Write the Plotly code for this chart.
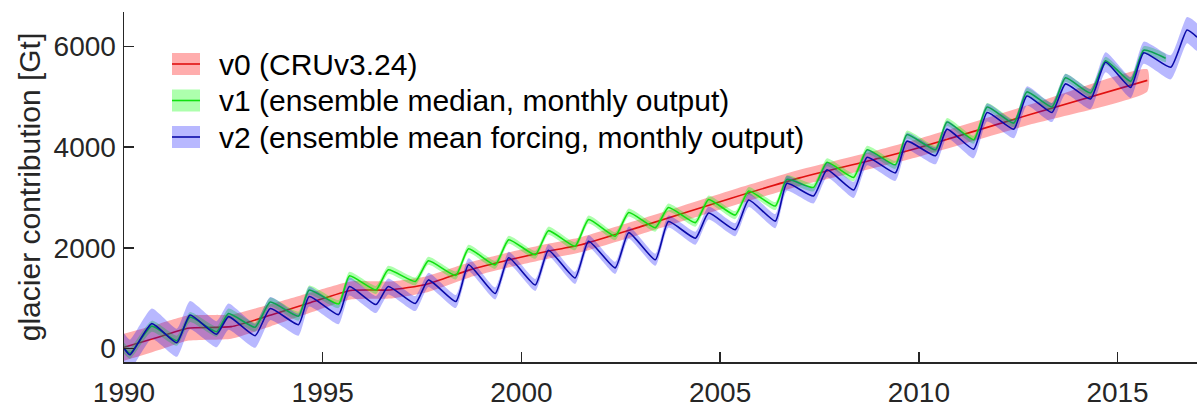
import plotly.graph_objects as go

# ---------------- data ----------------
# v0 (CRUv3.24): red curve and its uncertainty half-width [Gt]
v0_year = [1990.0, 1990.9, 1991.6, 1992.7, 1993.7, 1994.7, 1995.7, 1996.7, 1997.6, 1998.7,
           1999.7, 2000.6, 2001.5, 2003.0, 2005.3, 2007.0, 2009.0, 2010.0, 2012.8, 2015.75]
v0_val = [20, 230, 400, 430, 660, 910, 1150, 1160, 1270, 1560,
          1760, 1920, 2060, 2420, 2990, 3390, 3780, 3990, 4650, 5330]
v0_unc = [270, 260, 250, 240, 220, 200, 180, 170, 160, 150,
          150, 150, 150, 150, 160, 160, 170, 180, 200, 220]

# v2 (ensemble mean forcing, monthly output): troughs / peaks of the seasonal cycle
v2_year = [1990.00, 1990.15, 1990.70, 1991.33, 1991.66, 1992.33, 1992.63, 1993.30, 1993.68,
           1994.39, 1994.66, 1995.40, 1995.67, 1996.34, 1996.65, 1997.33, 1997.66, 1998.35,
           1998.67, 1999.34, 1999.68, 2000.35, 2000.68, 2001.35, 2001.69, 2002.36, 2002.70,
           2003.37, 2003.70, 2004.38, 2004.71, 2005.38, 2005.72, 2006.39, 2006.68, 2007.35,
           2007.69, 2008.36, 2008.70, 2009.41, 2009.70, 2010.42, 2010.71, 2011.38, 2011.72,
           2012.39, 2012.72, 2013.35, 2013.69, 2014.32, 2014.70, 2015.33, 2015.66, 2016.34,
           2016.75, 2017.00]
v2_val = [0, -130, 490, 110, 660, 280, 630, 250, 790,
          470, 1030, 670, 1230, 870, 1230, 890, 1360, 930,
          1660, 1090, 1800, 1260, 1950, 1400, 2130, 1600, 2300,
          1760, 2520, 2190, 2690, 2360, 2950, 2530, 3280, 3030,
          3550, 3150, 3800, 3490, 4120, 3830, 4360, 3960, 4690,
          4360, 5020, 4690, 5260, 4960, 5690, 5190, 5880, 5590,
          6330, 6190]
v2_unc = [300, 300, 300, 280, 280, 260, 260, 240, 230,
          220, 200, 190, 180, 170, 160, 150, 140, 130,
          130, 120, 120, 120, 120, 120, 120, 120, 120,
          120, 120, 130, 130, 130, 140, 140, 150, 150,
          150, 160, 160, 160, 170, 170, 170, 180, 180,
          180, 190, 190, 200, 200, 200, 210, 220, 240,
          260, 270]

# v1 (ensemble median, monthly output)
v1_year = [1990.00, 1990.15, 1990.70, 1991.33, 1991.66, 1992.33, 1992.63, 1993.30, 1993.68,
           1994.39, 1994.66, 1995.40, 1995.67, 1996.34, 1996.65, 1997.33, 1997.66, 1998.35,
           1998.67, 1999.34, 1999.68, 2000.35, 2000.68, 2001.35, 2001.69, 2002.36, 2002.70,
           2003.37, 2003.70, 2004.38, 2004.71, 2005.38, 2005.72, 2006.39, 2006.68, 2007.35,
           2007.69, 2008.36, 2008.70, 2009.41, 2009.70, 2010.42, 2010.71, 2011.38, 2011.72,
           2012.39, 2012.72, 2013.35, 2013.69, 2014.32, 2014.70, 2015.33, 2015.66, 2016.21]
v1_val = [0, -100, 440, 150, 620, 330, 690, 420, 920,
          640, 1160, 880, 1440, 1160, 1560, 1330, 1740, 1450,
          1980, 1660, 2160, 1860, 2340, 2030, 2560, 2230, 2700,
          2400, 2800, 2500, 2960, 2650, 3130, 2830, 3360, 3200,
          3700, 3400, 3950, 3650, 4250, 3950, 4500, 4150, 4800,
          4480, 5100, 4800, 5380, 5080, 5720, 5310, 5930, 5770]
v1_unc = [110, 110, 110, 100, 100, 100, 100, 90, 90,
          90, 90, 80, 80, 80, 80, 80, 80, 80,
          80, 80, 80, 80, 80, 80, 80, 80, 80,
          80, 80, 80, 80, 80, 80, 80, 80, 80,
          80, 80, 80, 80, 80, 80, 80, 80, 80,
          80, 80, 80, 80, 80, 80, 80, 80, 80]

legend_labels = ["v0 (CRUv3.24)",
                 "v1 (ensemble median, monthly output)",
                 "v2 (ensemble mean forcing, monthly output)"]
x_ticks = [1990, 1995, 2000, 2005, 2010, 2015]
y_ticks = [0, 2000, 4000, 6000]

# ---------------- styling ----------------
FONT = "Liberation Sans, Arial, Helvetica, sans-serif"
AX = "#262626"
series = [
    (v0_year, v0_val, v0_unc, "#e01010", "rgba(255,0,0,0.32)"),
    (v1_year, v1_val, v1_unc, "#10e010", "rgba(0,255,0,0.32)"),
    (v2_year, v2_val, v2_unc, "#0a0aa8", "rgba(0,0,255,0.28)"),
]

fig = go.Figure()
for (xs, ys, us, lc, fc) in series:
    up = [y + u for y, u in zip(ys, us)]
    lo = [y - u for y, u in zip(ys, us)]
    fig.add_trace(go.Scatter(
        x=list(xs) + list(xs)[::-1], y=up + lo[::-1],
        fill="toself", fillcolor=fc, mode="lines",
        line=dict(width=0, color=fc, shape="spline", smoothing=0.5),
        hoverinfo="skip", showlegend=False))
    fig.add_trace(go.Scatter(
        x=xs, y=ys, mode="lines",
        line=dict(width=1.6, color=lc, shape="spline", smoothing=0.5),
        hoverinfo="skip", showlegend=False))

# ---------------- geometry ----------------
W, H = 1199, 407
L, R, T, B = 124, 2, 12, 45
pw, ph = W - L - R, H - T - B
def px(xs_screen):
    return (xs_screen - L) / pw
def py(ys_screen):
    return (H - B - ys_screen) / ph

leg_centers = [64, 100.5, 137]
for (s, yc, lab) in zip(series, leg_centers, legend_labels):
    lc, fc = s[3], s[4]
    fig.add_shape(type="rect", xref="paper", yref="paper",
                  x0=px(172), x1=px(200), y0=py(yc + 11), y1=py(yc - 11),
                  fillcolor=fc, line=dict(width=0), layer="above")
    fig.add_shape(type="line", xref="paper", yref="paper",
                  x0=px(172), x1=px(200), y0=py(yc), y1=py(yc),
                  line=dict(color=lc, width=1.6), layer="above")
    fig.add_annotation(xref="paper", yref="paper", x=px(217), y=py(yc),
                       text=lab, showarrow=False, xanchor="left", yanchor="middle",
                       font=dict(family=FONT, size=30, color="#000000"))

fig.update_layout(
    width=W, height=H,
    margin=dict(l=L, r=R, t=T, b=B, autoexpand=False),
    paper_bgcolor="white", plot_bgcolor="white",
    showlegend=False, hovermode=False,
    font=dict(family=FONT, color=AX),
)
fig.update_xaxes(
    range=[1990, 2017.0], tickvals=x_ticks, ticktext=[str(v) for v in x_ticks],
    ticks="inside", ticklen=10, tickwidth=1.5, tickcolor=AX,
    showline=True, linecolor=AX, linewidth=1.5, mirror=False,
    showgrid=False, zeroline=False, automargin=False,
    tickfont=dict(family=FONT, size=28, color=AX), ticklabelstandoff=5,
)
fig.update_yaxes(
    range=[-273, 6690], tickvals=y_ticks, ticktext=[str(v) for v in y_ticks],
    ticks="inside", ticklen=10, tickwidth=1.5, tickcolor=AX,
    showline=True, linecolor=AX, linewidth=1.5, mirror=False,
    showgrid=False, zeroline=False,
    tickfont=dict(family=FONT, size=28, color=AX), ticklabelstandoff=1,
    title=dict(text="glacier contribution [Gt]", standoff=4,
               font=dict(family=FONT, size=30, color=AX)),
    automargin=False,
)

# make the page exactly the figure size (no default body margin, no overflow)
page_css = (
    "var s=document.createElement('style');"
    "s.textContent='html,body{margin:0;padding:0;overflow:hidden;width:1199px;height:407px;}"
    " body>div{margin:0;padding:0;line-height:0;font-size:0;height:407px;}';"
    "document.head.appendChild(s);"
)
fig.write_html("out.html", config={"displayModeBar": False, "staticPlot": True},
               post_script=page_css)
